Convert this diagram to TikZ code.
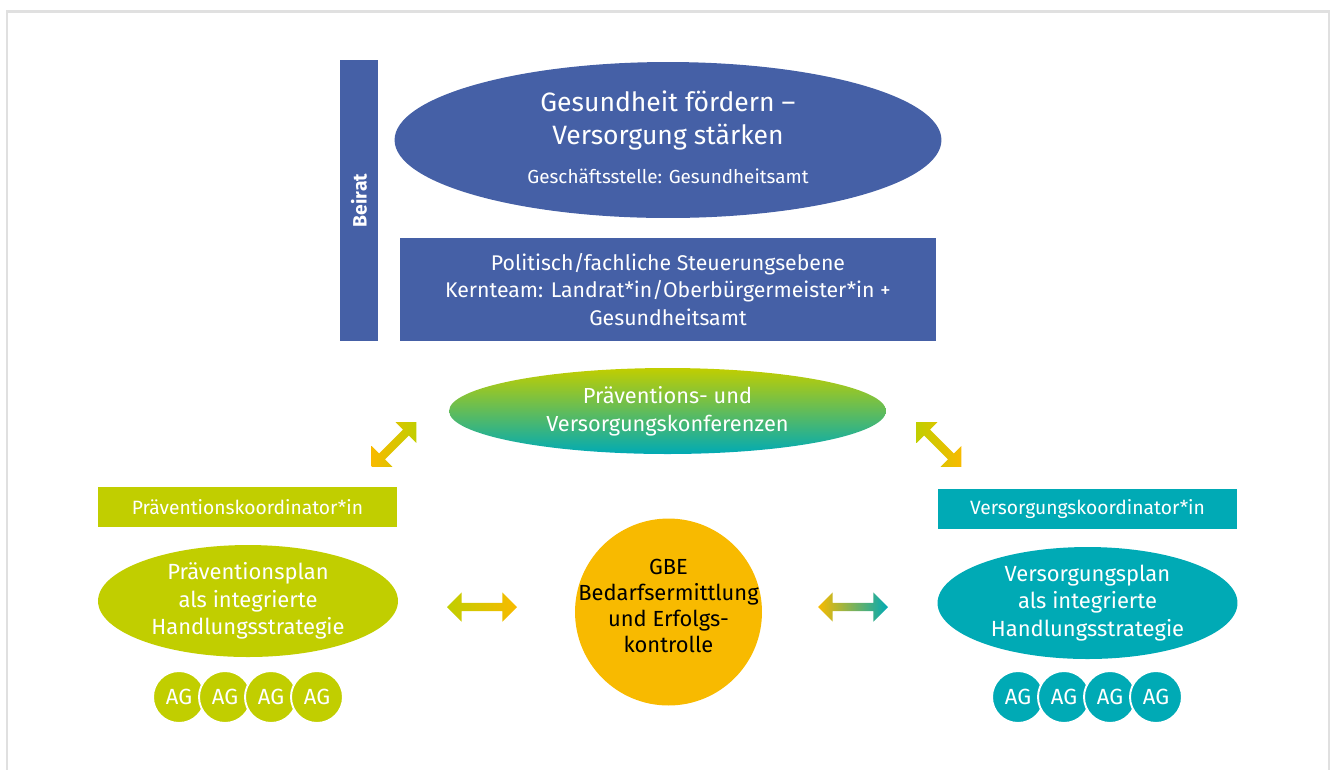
\documentclass[tikz,border=0pt]{standalone}
\usepackage{fontspec}
\setmainfont{Fira Sans}
\usetikzlibrary{shapes.geometric,shapes.arrows}
\definecolor{lkblue}{RGB}{69,96,166}
\definecolor{lkgreen}{RGB}{193,206,0}
\definecolor{lkteal}{RGB}{0,170,181}
\definecolor{lkgold}{RGB}{248,186,0}
\definecolor{lkframe}{RGB}{224,224,224}

\begin{document}
\begin{tikzpicture}[x=0.02cm,y=-0.02cm,node distance=0.92cm]
  \tikzstyle{box}=[rectangle,inner sep=0pt,text=white,align=center]
  \tikzstyle{oval}=[ellipse,inner sep=0pt,text=white,align=center]
  \tikzstyle{ag}=[circle,draw=white,line width=1.1pt,minimum size=1.04cm,inner sep=0pt,text=white,font=\fontsize{12.5}{14}\selectfont]
  \tikzstyle{dblarrow}=[double arrow,inner sep=0pt,text height=0.075cm,text depth=0.075cm,double arrow head extend=0.21cm,minimum width=0.56cm]

  \useasboundingbox (0,0) rectangle (1337,769);
  \clip (0,0) rectangle (1337,769);
  \draw [lkframe,line width=0.05cm] (7,11.5) rectangle (1329,900);

  % Leitung
  \node [box,fill=lkblue,minimum width=0.76cm,minimum height=5.62cm] (beirat) at (359,200.5) {};
  \node [text=white,rotate=90,font=\bfseries\fontsize{11}{13}\selectfont] (beirattext) at (beirat.center) {Beirat};
  \node [oval,fill=lkblue,minimum width=10.94cm,minimum height=3.12cm] (leitbild) at (668,140) {};
  \node [text=white,align=center,font=\fontsize{15.1}{19.3}\selectfont] (titel) at (668,120.5) {Gesundheit fördern –\\Versorgung stärken};
  \node [text=white,font=\fontsize{10.75}{13}\selectfont] (gst) at (668,176) {Geschäftsstelle: Gesundheitsamt};
  \node [box,fill=lkblue,minimum width=10.72cm,minimum height=2.06cm,font=\fontsize{12.1}{15.6}\selectfont] (steuerung) at (668,289.5)
    {Politisch/fachliche Steuerungsebene\\Kernteam: Landrat*in/Oberbürgermeister*in +\\Gesundheitsamt};
  \node [oval,top color=lkgreen,bottom color=lkteal,minimum width=8.74cm,minimum height=1.72cm,font=\fontsize{12.4}{15.9}\selectfont] (konferenz) at (667.5,411)
    {Präventions- und\\Versorgungskonferenzen};

  % Koordination
  \node [box,fill=lkgreen,minimum width=5.98cm,minimum height=0.8cm,font=\fontsize{10.95}{12}\selectfont] (pkoord) at (247.5,507) {Präventionskoordinator*in};
  \node [box,fill=lkteal,minimum width=5.98cm,minimum height=0.8cm,font=\fontsize{10.95}{12}\selectfont] (vkoord) at (1087.5,509) {Versorgungskoordinator*in};
  \node [oval,fill=lkgreen,minimum width=6cm,minimum height=2.24cm,font=\fontsize{12.5}{15.6}\selectfont] (pplan) at (248,601)
    {Präventionsplan\\als integrierte\\Handlungsstrategie};
  \node [oval,fill=lkteal,minimum width=6cm,minimum height=2.24cm,font=\fontsize{12.5}{15.6}\selectfont] (vplan) at (1087.5,603)
    {Versorgungsplan\\als integrierte\\Handlungsstrategie};
  \node [circle,fill=lkgold,inner sep=0pt,minimum size=3.74cm] (gbe) at (668.5,612) {};
  \node [align=center,font=\fontsize{12.45}{14.7}\selectfont] (gbetext) at (668.5,606)
    {GBE\\Bedarfsermittlung\\und Erfolgs-\\kontrolle};

  % Pfeile
  \node [dblarrow,minimum height=1.26cm,rotate=45,left color=lkgold,right color=lkgreen] (pfeilpk) at (394,444.5) {};
  \node [dblarrow,minimum height=1.26cm,rotate=-45,left color=lkgreen,right color=lkgold] (pfeilvk) at (939,444.5) {};
  \node [dblarrow,minimum height=1.4cm,left color=lkgreen,right color=lkgold] (pfeilpg) at (482,607) {};
  \node [dblarrow,minimum height=1.4cm,left color=lkgold,right color=lkteal] (pfeilvg) at (853,607) {};

  % Arbeitsgruppen
  \node [ag,fill=lkgreen] (pag1) at (179,697) {AG};
  \node [ag,fill=lkgreen] (pag2) [right of=pag1] {AG};
  \node [ag,fill=lkgreen] (pag3) [right of=pag2] {AG};
  \node [ag,fill=lkgreen] (pag4) [right of=pag3] {AG};
  \node [ag,fill=lkteal] (vag1) at (1018,697) {AG};
  \node [ag,fill=lkteal] (vag2) [right of=vag1] {AG};
  \node [ag,fill=lkteal] (vag3) [right of=vag2] {AG};
  \node [ag,fill=lkteal] (vag4) [right of=vag3] {AG};
\end{tikzpicture}
\end{document}
